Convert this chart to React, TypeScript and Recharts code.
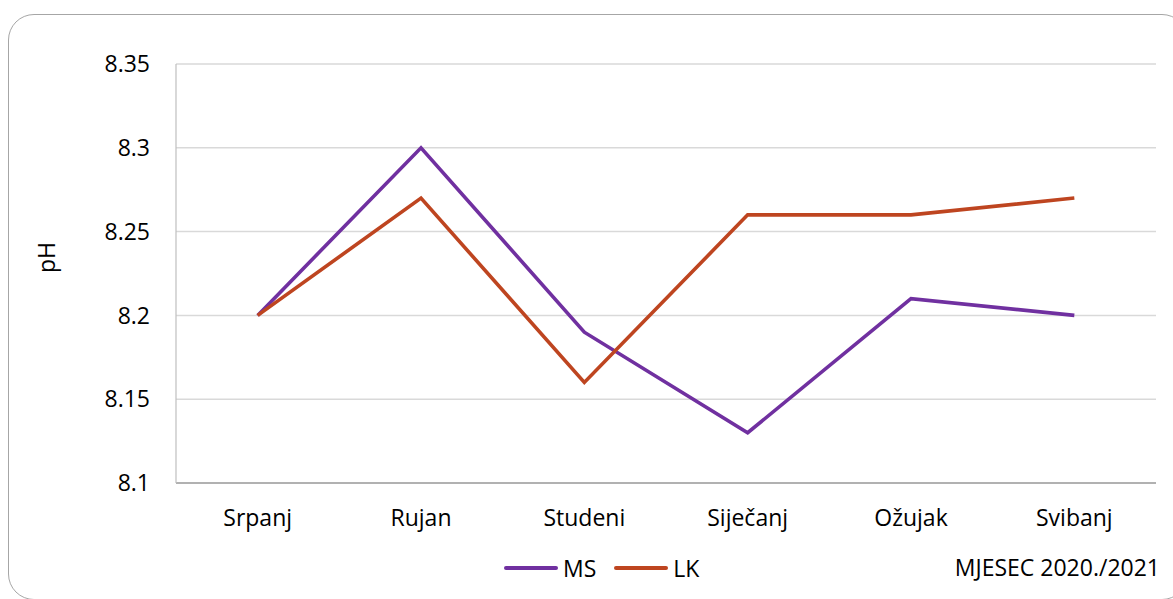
import React from 'react';
import { LineChart, Line, XAxis, YAxis, CartesianGrid, Legend } from 'recharts';

const months = ['Srpanj', 'Rujan', 'Studeni', 'Siječanj', 'Ožujak', 'Svibanj'];
const msValues = [8.2, 8.3, 8.19, 8.13, 8.21, 8.2];
const lkValues = [8.2, 8.27, 8.16, 8.26, 8.26, 8.27];
const yTicks = [8.1, 8.15, 8.2, 8.25, 8.3, 8.35];
const seriesNames = ['MS', 'LK'];
const seriesColors = ['#7030A0', '#BE4520'];
const xTitle = 'MJESEC 2020./2021';
const yTitle = 'pH';

const data = months.map((m, i) => ({ month: m, MS: msValues[i], LK: lkValues[i] }));

const FONT = '"Open Sans", sans-serif';
const FS = 23;

const LegendContent = () => (
  <div style={{ display: 'flex', alignItems: 'center', paddingLeft: 504, fontFamily: FONT, fontSize: FS, color: '#000', height: 30 }}>
    {seriesNames.map((n, i) => (
      <div key={n} style={{ display: 'flex', alignItems: 'center', marginRight: 18 }}>
        <div style={{ width: 54, height: 4, background: seriesColors[i], borderRadius: 2, marginRight: 5 }} />
        <span>{n}</span>
      </div>
    ))}
  </div>
);

export default function App() {
  return (
    <div style={{ position: 'absolute', left: 0, top: 0, width: 1173, height: 599, overflow: 'hidden', background: '#fff' }}>
      <div style={{ position: 'absolute', left: 8, top: 14, width: 1180, height: 586, border: '1.3px solid #a6a6a6', borderRadius: 26, boxSizing: 'border-box' }} />
      <LineChart
        width={1173}
        height={599}
        data={data}
        margin={{ top: 64, right: 17, bottom: 0, left: 0 }}
        style={{ position: 'absolute', left: 0, top: 0 }}
      >
        <CartesianGrid horizontal vertical={false} stroke="#d9d9d9" strokeWidth={1.5} />
        <XAxis
          dataKey="month"
          scale="band"
          height={116}
          tickLine={false}
          tickSize={0}
          tickMargin={27}
          axisLine={{ stroke: '#a0a0a0', strokeWidth: 1.5 }}
          tick={{ fill: '#000', fontSize: FS, fontFamily: FONT }}
          label={{ value: xTitle, position: 'insideBottomRight', offset: 0, dx: 4, dy: -23, fill: '#000', fontSize: FS, fontFamily: FONT }}
        />
        <YAxis
          width={176}
          domain={[8.1, 8.35]}
          ticks={yTicks}
          tickLine={false}
          tickSize={0}
          tickMargin={26}
          axisLine={{ stroke: '#bfbfbf', strokeWidth: 1.2 }}
          tick={{ fill: '#000', fontSize: FS, fontFamily: FONT }}
          label={{ value: yTitle, angle: -90, position: 'center', dx: -41, dy: -16, fill: '#000', fontSize: FS, fontFamily: FONT }}
        />
        <Legend
          verticalAlign="middle"
          align="center"
          layout="horizontal"
          content={<LegendContent />}
          wrapperStyle={{ position: 'absolute', left: 0, top: 553, width: 1173 }}
        />
        <Line dataKey="MS" name="MS" stroke={seriesColors[0]} strokeWidth={3.6} dot={false} isAnimationActive={false} />
        <Line dataKey="LK" name="LK" stroke={seriesColors[1]} strokeWidth={3.6} dot={false} isAnimationActive={false} />
      </LineChart>
    </div>
  );
}
